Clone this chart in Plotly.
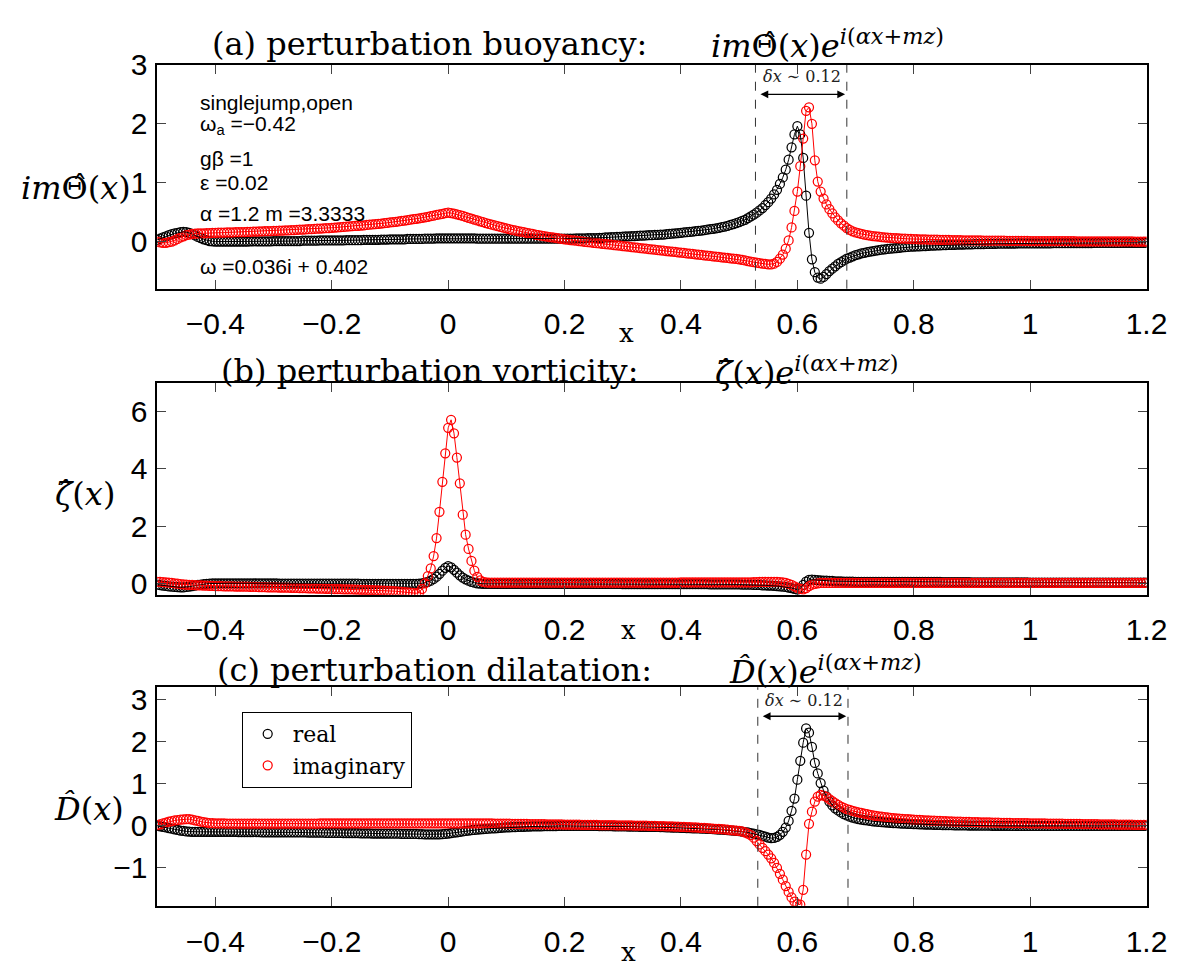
import plotly.graph_objects as go

W, H = 1198, 976

# ---------------- data ----------------
x = [
    -0.500, -0.495, -0.490, -0.485, -0.480, -0.475, -0.470, -0.465, -0.460, -0.455,
    -0.450, -0.445, -0.440, -0.435, -0.430, -0.425, -0.420, -0.415, -0.410, -0.405,
    -0.400, -0.395, -0.390, -0.385, -0.380, -0.375, -0.370, -0.365, -0.360, -0.355,
    -0.350, -0.345, -0.340, -0.335, -0.330, -0.325, -0.320, -0.315, -0.310, -0.305,
    -0.300, -0.295, -0.290, -0.285, -0.280, -0.275, -0.270, -0.265, -0.260, -0.255,
    -0.250, -0.245, -0.240, -0.235, -0.230, -0.225, -0.220, -0.215, -0.210, -0.205,
    -0.200, -0.195, -0.190, -0.185, -0.180, -0.175, -0.170, -0.165, -0.160, -0.155,
    -0.150, -0.145, -0.140, -0.135, -0.130, -0.125, -0.120, -0.115, -0.110, -0.105,
    -0.100, -0.095, -0.090, -0.085, -0.080, -0.075, -0.070, -0.065, -0.060, -0.055,
    -0.050, -0.045, -0.040, -0.035, -0.030, -0.025, -0.020, -0.015, -0.010, -0.005,
    0.000, 0.005, 0.010, 0.015, 0.020, 0.025, 0.030, 0.035, 0.040, 0.045,
    0.050, 0.055, 0.060, 0.065, 0.070, 0.075, 0.080, 0.085, 0.090, 0.095,
    0.100, 0.105, 0.110, 0.115, 0.120, 0.125, 0.130, 0.135, 0.140, 0.145,
    0.150, 0.155, 0.160, 0.165, 0.170, 0.175, 0.180, 0.185, 0.190, 0.195,
    0.200, 0.205, 0.210, 0.215, 0.220, 0.225, 0.230, 0.235, 0.240, 0.245,
    0.250, 0.255, 0.260, 0.265, 0.270, 0.275, 0.280, 0.285, 0.290, 0.295,
    0.300, 0.305, 0.310, 0.315, 0.320, 0.325, 0.330, 0.335, 0.340, 0.345,
    0.350, 0.355, 0.360, 0.365, 0.370, 0.375, 0.380, 0.385, 0.390, 0.395,
    0.400, 0.405, 0.410, 0.415, 0.420, 0.425, 0.430, 0.435, 0.440, 0.445,
    0.450, 0.455, 0.460, 0.465, 0.470, 0.475, 0.480, 0.485, 0.490, 0.495,
    0.500, 0.505, 0.510, 0.515, 0.520, 0.525, 0.530, 0.535, 0.540, 0.545,
    0.550, 0.555, 0.560, 0.565, 0.570, 0.575, 0.580, 0.585, 0.590, 0.595,
    0.600, 0.605, 0.610, 0.615, 0.620, 0.625, 0.630, 0.635, 0.640, 0.645,
    0.650, 0.655, 0.660, 0.665, 0.670, 0.675, 0.680, 0.685, 0.690, 0.695,
    0.700, 0.705, 0.710, 0.715, 0.720, 0.725, 0.730, 0.735, 0.740, 0.745,
    0.750, 0.755, 0.760, 0.765, 0.770, 0.775, 0.780, 0.785, 0.790, 0.795,
    0.800, 0.805, 0.810, 0.815, 0.820, 0.825, 0.830, 0.835, 0.840, 0.845,
    0.850, 0.855, 0.860, 0.865, 0.870, 0.875, 0.880, 0.885, 0.890, 0.895,
    0.900, 0.905, 0.910, 0.915, 0.920, 0.925, 0.930, 0.935, 0.940, 0.945,
    0.950, 0.955, 0.960, 0.965, 0.970, 0.975, 0.980, 0.985, 0.990, 0.995,
    1.000, 1.005, 1.010, 1.015, 1.020, 1.025, 1.030, 1.035, 1.040, 1.045,
    1.050, 1.055, 1.060, 1.065, 1.070, 1.075, 1.080, 1.085, 1.090, 1.095,
    1.100, 1.105, 1.110, 1.115, 1.120, 1.125, 1.130, 1.135, 1.140, 1.145,
    1.150, 1.155, 1.160, 1.165, 1.170, 1.175, 1.180, 1.185, 1.190, 1.195,
    1.200,
]

# (a) buoyancy  i m Theta(x)
buoy_real = [
    0.03, 0.05, 0.07, 0.09, 0.11, 0.125, 0.14, 0.15, 0.16, 0.165,
    0.16, 0.15, 0.13, 0.105, 0.08, 0.06, 0.04, 0.025, 0.01, 0.005,
    0.0, 0.0, 0.0, 0.0, 0.0, 0.0, 0.0, 0.0, 0.0, 0.0,
    0.0, 0.0, 0.005, 0.005, 0.005, 0.005, 0.005, 0.005, 0.005, 0.005,
    0.01, 0.01, 0.01, 0.01, 0.01, 0.01, 0.01, 0.01, 0.01, 0.01,
    0.015, 0.015, 0.015, 0.015, 0.015, 0.015, 0.02, 0.02, 0.02, 0.02,
    0.02, 0.02, 0.02, 0.02, 0.02, 0.025, 0.025, 0.025, 0.025, 0.025,
    0.025, 0.03, 0.03, 0.03, 0.03, 0.03, 0.03, 0.035, 0.035, 0.035,
    0.04, 0.04, 0.04, 0.04, 0.04, 0.04, 0.045, 0.045, 0.045, 0.045,
    0.045, 0.045, 0.05, 0.05, 0.05, 0.05, 0.055, 0.055, 0.055, 0.055,
    0.055, 0.055, 0.055, 0.055, 0.055, 0.055, 0.055, 0.055, 0.055, 0.055,
    0.05, 0.05, 0.05, 0.05, 0.05, 0.05, 0.05, 0.05, 0.05, 0.05,
    0.05, 0.05, 0.05, 0.05, 0.05, 0.05, 0.05, 0.05, 0.05, 0.05,
    0.05, 0.05, 0.05, 0.05, 0.05, 0.05, 0.05, 0.05, 0.05, 0.05,
    0.05, 0.05, 0.05, 0.05, 0.055, 0.055, 0.055, 0.055, 0.06, 0.06,
    0.06, 0.06, 0.065, 0.065, 0.07, 0.07, 0.075, 0.075, 0.08, 0.08,
    0.085, 0.088, 0.09, 0.093, 0.095, 0.098, 0.10, 0.103, 0.105, 0.108,
    0.11, 0.113, 0.115, 0.118, 0.12, 0.125, 0.13, 0.135, 0.14, 0.145,
    0.15, 0.155, 0.16, 0.165, 0.17, 0.176, 0.182, 0.188, 0.195, 0.202,
    0.21, 0.218, 0.226, 0.235, 0.245, 0.256, 0.268, 0.282, 0.297, 0.313,
    0.33, 0.35, 0.37, 0.40, 0.43, 0.46, 0.49, 0.53, 0.57, 0.62,
    0.67, 0.73, 0.80, 0.88, 0.98, 1.09, 1.22, 1.39, 1.60, 1.82,
    1.96, 1.82, 1.42, 0.78, 0.15, -0.30, -0.52, -0.61, -0.63, -0.60,
    -0.55, -0.50, -0.46, -0.42, -0.38, -0.35, -0.32, -0.29, -0.27, -0.25,
    -0.23, -0.215, -0.20, -0.19, -0.18, -0.17, -0.16, -0.152, -0.145, -0.137,
    -0.13, -0.125, -0.12, -0.115, -0.11, -0.105, -0.10, -0.095, -0.09, -0.087,
    -0.085, -0.082, -0.08, -0.077, -0.075, -0.072, -0.07, -0.067, -0.065, -0.062,
    -0.06, -0.058, -0.057, -0.055, -0.054, -0.052, -0.051, -0.05, -0.048, -0.046,
    -0.045, -0.044, -0.043, -0.042, -0.041, -0.04, -0.039, -0.038, -0.037, -0.036,
    -0.035, -0.035, -0.034, -0.034, -0.033, -0.033, -0.032, -0.032, -0.031, -0.031,
    -0.03, -0.03, -0.029, -0.029, -0.028, -0.028, -0.028, -0.028, -0.027, -0.027,
    -0.026, -0.026, -0.026, -0.026, -0.025, -0.025, -0.025, -0.025, -0.024, -0.024,
    -0.024, -0.024, -0.023, -0.023, -0.023, -0.023, -0.022, -0.022, -0.022, -0.022,
    -0.022, -0.022, -0.021, -0.021, -0.021, -0.021, -0.02, -0.02, -0.02, -0.02,
    -0.02,
]
buoy_imag = [
    0.0, -0.015, -0.02, -0.02, -0.01, 0.0, 0.02, 0.045, 0.07, 0.09,
    0.11, 0.12, 0.13, 0.135, 0.14, 0.14, 0.14, 0.142, 0.145, 0.147,
    0.15, 0.151, 0.152, 0.153, 0.155, 0.156, 0.158, 0.159, 0.16, 0.162,
    0.163, 0.165, 0.166, 0.168, 0.17, 0.172, 0.174, 0.176, 0.178, 0.18,
    0.182, 0.184, 0.186, 0.188, 0.19, 0.192, 0.195, 0.197, 0.20, 0.202,
    0.205, 0.207, 0.21, 0.213, 0.216, 0.219, 0.222, 0.225, 0.228, 0.231,
    0.235, 0.238, 0.242, 0.246, 0.25, 0.253, 0.257, 0.261, 0.265, 0.269,
    0.273, 0.277, 0.282, 0.287, 0.292, 0.297, 0.302, 0.307, 0.313, 0.319,
    0.325, 0.331, 0.337, 0.343, 0.35, 0.357, 0.364, 0.372, 0.38, 0.388,
    0.396, 0.405, 0.413, 0.422, 0.432, 0.442, 0.452, 0.462, 0.472, 0.482,
    0.49, 0.485, 0.475, 0.463, 0.45, 0.435, 0.42, 0.405, 0.39, 0.375,
    0.36, 0.345, 0.33, 0.315, 0.30, 0.288, 0.275, 0.262, 0.25, 0.237,
    0.225, 0.212, 0.20, 0.19, 0.18, 0.17, 0.16, 0.15, 0.14, 0.13,
    0.12, 0.11, 0.10, 0.092, 0.085, 0.077, 0.07, 0.062, 0.055, 0.047,
    0.04, 0.033, 0.027, 0.021, 0.015, 0.009, 0.003, -0.004, -0.01, -0.015,
    -0.02, -0.026, -0.031, -0.037, -0.042, -0.048, -0.053, -0.059, -0.065, -0.07,
    -0.076, -0.082, -0.087, -0.093, -0.098, -0.104, -0.11, -0.115, -0.12, -0.126,
    -0.132, -0.138, -0.143, -0.149, -0.154, -0.16, -0.165, -0.171, -0.176, -0.182,
    -0.188, -0.193, -0.199, -0.204, -0.21, -0.215, -0.221, -0.227, -0.232, -0.238,
    -0.244, -0.249, -0.255, -0.26, -0.266, -0.271, -0.277, -0.283, -0.288, -0.294,
    -0.30, -0.31, -0.32, -0.33, -0.34, -0.35, -0.358, -0.366, -0.374, -0.38,
    -0.385, -0.385, -0.375, -0.345, -0.29, -0.22, -0.12, 0.02, 0.24, 0.52,
    0.85, 1.28, 1.75, 2.22, 2.28, 2.0, 1.38, 1.02, 0.85, 0.73,
    0.63, 0.55, 0.48, 0.41, 0.36, 0.31, 0.27, 0.23, 0.20, 0.175,
    0.155, 0.142, 0.13, 0.12, 0.11, 0.102, 0.095, 0.089, 0.083, 0.078,
    0.073, 0.069, 0.065, 0.061, 0.058, 0.055, 0.052, 0.05, 0.047, 0.045,
    0.043, 0.041, 0.04, 0.038, 0.037, 0.035, 0.034, 0.033, 0.032, 0.031,
    0.03, 0.029, 0.028, 0.027, 0.026, 0.025, 0.024, 0.023, 0.022, 0.021,
    0.02, 0.02, 0.019, 0.019, 0.018, 0.018, 0.017, 0.017, 0.016, 0.016,
    0.015, 0.015, 0.014, 0.014, 0.013, 0.013, 0.012, 0.012, 0.011, 0.011,
    0.01, 0.01, 0.01, 0.01, 0.009, 0.009, 0.009, 0.009, 0.008, 0.008,
    0.008, 0.008, 0.007, 0.007, 0.007, 0.007, 0.006, 0.006, 0.006, 0.006,
    0.005, 0.005, 0.005, 0.005, 0.004, 0.004, 0.004, 0.004, 0.003, 0.003,
    0.003, 0.003, 0.002, 0.002, 0.002, 0.002, 0.001, 0.001, 0.001, 0.001,
    0.0,
]

# (b) vorticity  zeta(x)
vort_real = [
    -0.05, -0.065, -0.08, -0.095, -0.11, -0.12, -0.13, -0.135, -0.14, -0.14,
    -0.13, -0.12, -0.10, -0.08, -0.06, -0.045, -0.03, -0.02, -0.01, -0.005,
    0.0, 0.0, 0.0, 0.0, 0.0, 0.0, 0.0, 0.0, 0.0, 0.0,
    0.0, 0.0, 0.0, 0.0, 0.0, 0.0, 0.0, 0.0, 0.0, 0.0,
    0.0, 0.0, -0.01, -0.01, -0.01, -0.01, -0.01, -0.01, -0.01, -0.01,
    -0.01, -0.01, -0.01, -0.01, -0.01, -0.01, -0.01, -0.01, -0.01, -0.01,
    -0.01, -0.01, -0.01, -0.01, -0.01, -0.01, -0.01, -0.01, -0.01, -0.01,
    -0.02, -0.02, -0.02, -0.02, -0.02, -0.02, -0.02, -0.02, -0.02, -0.02,
    -0.02, -0.02, -0.02, -0.02, -0.02, -0.02, -0.02, -0.02, -0.02, -0.02,
    -0.01, 0.0, 0.02, 0.05, 0.09, 0.15, 0.23, 0.33, 0.44, 0.54,
    0.60, 0.56, 0.47, 0.37, 0.28, 0.20, 0.14, 0.09, 0.05, 0.02,
    0.0, -0.01, -0.02, -0.02, -0.02, -0.02, -0.02, -0.02, -0.02, -0.02,
    -0.02, -0.02, -0.02, -0.02, -0.02, -0.02, -0.02, -0.02, -0.02, -0.02,
    -0.02, -0.02, -0.02, -0.02, -0.02, -0.02, -0.02, -0.02, -0.02, -0.02,
    -0.02, -0.02, -0.02, -0.02, -0.02, -0.02, -0.02, -0.02, -0.02, -0.02,
    -0.025, -0.025, -0.025, -0.025, -0.025, -0.025, -0.025, -0.025, -0.025, -0.025,
    -0.03, -0.03, -0.03, -0.03, -0.03, -0.03, -0.03, -0.03, -0.03, -0.03,
    -0.03, -0.03, -0.03, -0.03, -0.03, -0.03, -0.03, -0.03, -0.03, -0.03,
    -0.03, -0.03, -0.03, -0.03, -0.03, -0.03, -0.03, -0.03, -0.03, -0.03,
    -0.04, -0.04, -0.04, -0.04, -0.04, -0.04, -0.04, -0.04, -0.04, -0.04,
    -0.04, -0.05, -0.05, -0.05, -0.05, -0.06, -0.06, -0.06, -0.07, -0.07,
    -0.08, -0.08, -0.09, -0.10, -0.11, -0.12, -0.13, -0.15, -0.17, -0.20,
    -0.22, -0.18, -0.06, 0.06, 0.12, 0.13, 0.12, 0.11, 0.10, 0.09,
    0.09, 0.08, 0.08, 0.07, 0.07, 0.07, 0.06, 0.06, 0.06, 0.06,
    0.05, 0.05, 0.05, 0.05, 0.05, 0.05, 0.05, 0.05, 0.05, 0.05,
    0.05, 0.05, 0.05, 0.05, 0.05, 0.05, 0.05, 0.05, 0.05, 0.05,
    0.045, 0.045, 0.045, 0.045, 0.045, 0.045, 0.045, 0.045, 0.045, 0.045,
    0.04, 0.04, 0.04, 0.04, 0.04, 0.04, 0.04, 0.04, 0.04, 0.04,
    0.035, 0.035, 0.035, 0.035, 0.035, 0.035, 0.035, 0.035, 0.035, 0.035,
    0.03, 0.03, 0.03, 0.03, 0.03, 0.03, 0.03, 0.03, 0.03, 0.03,
    0.025, 0.025, 0.025, 0.025, 0.025, 0.025, 0.025, 0.025, 0.025, 0.025,
    0.02, 0.02, 0.02, 0.02, 0.02, 0.02, 0.02, 0.02, 0.02, 0.02,
    0.02, 0.02, 0.02, 0.02, 0.02, 0.02, 0.02, 0.02, 0.02, 0.02,
    0.02, 0.02, 0.02, 0.02, 0.02, 0.02, 0.02, 0.02, 0.02, 0.02,
    0.02,
]
vort_imag = [
    0.05, 0.045, 0.04, 0.03, 0.02, 0.01, 0.0, -0.015, -0.03, -0.04,
    -0.05, -0.055, -0.06, -0.065, -0.07, -0.07, -0.08, -0.085, -0.09, -0.095,
    -0.10, -0.102, -0.104, -0.106, -0.108, -0.11, -0.112, -0.114, -0.116, -0.118,
    -0.12, -0.122, -0.125, -0.127, -0.13, -0.132, -0.135, -0.137, -0.14, -0.142,
    -0.145, -0.147, -0.15, -0.152, -0.155, -0.157, -0.16, -0.162, -0.165, -0.167,
    -0.17, -0.172, -0.175, -0.177, -0.18, -0.185, -0.19, -0.192, -0.195, -0.197,
    -0.20, -0.202, -0.205, -0.207, -0.21, -0.212, -0.215, -0.217, -0.22, -0.225,
    -0.23, -0.232, -0.235, -0.237, -0.24, -0.245, -0.25, -0.255, -0.26, -0.265,
    -0.27, -0.275, -0.28, -0.29, -0.30, -0.31, -0.32, -0.33, -0.34, -0.35,
    -0.32, -0.20, 0.0, 0.25, 0.52, 0.95, 1.58, 2.5, 3.55, 4.55,
    5.44, 5.72, 5.25, 4.4, 3.5, 2.4, 1.7, 1.2, 0.78, 0.44,
    0.22, 0.10, 0.05, 0.03, 0.02, 0.02, 0.02, 0.02, 0.02, 0.02,
    0.02, 0.02, 0.02, 0.02, 0.02, 0.02, 0.02, 0.02, 0.02, 0.02,
    0.02, 0.02, 0.02, 0.02, 0.02, 0.02, 0.02, 0.02, 0.02, 0.02,
    0.02, 0.02, 0.02, 0.02, 0.02, 0.02, 0.02, 0.02, 0.02, 0.02,
    0.02, 0.02, 0.02, 0.02, 0.02, 0.02, 0.02, 0.02, 0.02, 0.02,
    0.02, 0.02, 0.02, 0.02, 0.02, 0.02, 0.02, 0.02, 0.02, 0.02,
    0.025, 0.025, 0.025, 0.025, 0.025, 0.025, 0.025, 0.025, 0.025, 0.025,
    0.03, 0.03, 0.03, 0.03, 0.03, 0.03, 0.03, 0.03, 0.03, 0.03,
    0.03, 0.03, 0.03, 0.03, 0.03, 0.03, 0.03, 0.03, 0.03, 0.03,
    0.03, 0.03, 0.03, 0.035, 0.035, 0.04, 0.04, 0.045, 0.045, 0.05,
    0.05, 0.05, 0.05, 0.05, 0.04, 0.03, 0.01, -0.02, -0.06, -0.11,
    -0.16, -0.20, -0.21, -0.17, -0.10, -0.05, -0.02, 0.0, 0.01, 0.01,
    0.01, 0.01, 0.01, 0.01, 0.01, 0.01, 0.01, 0.01, 0.01, 0.01,
    0.01, 0.01, 0.01, 0.01, 0.01, 0.01, 0.01, 0.01, 0.01, 0.01,
    0.01, 0.01, 0.01, 0.01, 0.01, 0.01, 0.01, 0.01, 0.01, 0.01,
    0.01, 0.01, 0.01, 0.01, 0.01, 0.01, 0.01, 0.01, 0.01, 0.01,
    0.01, 0.01, 0.01, 0.01, 0.01, 0.01, 0.01, 0.01, 0.01, 0.01,
    0.01, 0.01, 0.01, 0.01, 0.01, 0.01, 0.01, 0.01, 0.01, 0.01,
    0.01, 0.01, 0.01, 0.01, 0.01, 0.01, 0.01, 0.01, 0.01, 0.01,
    0.01, 0.01, 0.01, 0.01, 0.01, 0.01, 0.01, 0.01, 0.01, 0.01,
    0.01, 0.01, 0.01, 0.01, 0.01, 0.01, 0.01, 0.01, 0.01, 0.01,
    0.01, 0.01, 0.01, 0.01, 0.01, 0.01, 0.01, 0.01, 0.01, 0.01,
    0.01, 0.01, 0.01, 0.01, 0.01, 0.01, 0.01, 0.01, 0.01, 0.01,
    0.01,
]

# (c) dilatation  D(x)
dil_real = [
    0.0, -0.01, -0.02, -0.035, -0.05, -0.065, -0.08, -0.095, -0.11, -0.12,
    -0.13, -0.135, -0.14, -0.14, -0.14, -0.14, -0.14, -0.14, -0.14, -0.14,
    -0.14, -0.14, -0.14, -0.14, -0.14, -0.14, -0.14, -0.14, -0.145, -0.145,
    -0.145, -0.145, -0.145, -0.145, -0.145, -0.145, -0.15, -0.15, -0.15, -0.15,
    -0.15, -0.15, -0.15, -0.15, -0.15, -0.15, -0.155, -0.155, -0.155, -0.155,
    -0.155, -0.155, -0.16, -0.16, -0.16, -0.16, -0.16, -0.16, -0.165, -0.165,
    -0.165, -0.165, -0.165, -0.165, -0.17, -0.17, -0.17, -0.17, -0.17, -0.17,
    -0.175, -0.175, -0.175, -0.175, -0.18, -0.18, -0.18, -0.18, -0.18, -0.18,
    -0.185, -0.185, -0.185, -0.185, -0.19, -0.19, -0.19, -0.19, -0.19, -0.19,
    -0.195, -0.195, -0.20, -0.20, -0.20, -0.20, -0.20, -0.20, -0.195, -0.19,
    -0.18, -0.17, -0.16, -0.15, -0.14, -0.13, -0.12, -0.11, -0.10, -0.095,
    -0.09, -0.08, -0.075, -0.07, -0.065, -0.06, -0.055, -0.05, -0.045, -0.04,
    -0.035, -0.032, -0.03, -0.027, -0.025, -0.022, -0.02, -0.017, -0.015, -0.012,
    -0.01, -0.01, -0.01, -0.007, -0.005, -0.005, -0.005, -0.003, 0.0, 0.0,
    0.0, 0.0, 0.0, 0.0, 0.0, 0.0, 0.0, 0.0, 0.0, 0.0,
    0.0, 0.0, -0.005, -0.005, -0.005, -0.005, -0.007, -0.01, -0.01, -0.01,
    -0.01, -0.012, -0.015, -0.015, -0.015, -0.017, -0.02, -0.02, -0.02, -0.022,
    -0.025, -0.025, -0.025, -0.027, -0.03, -0.032, -0.035, -0.037, -0.04, -0.042,
    -0.045, -0.047, -0.05, -0.052, -0.055, -0.057, -0.06, -0.062, -0.065, -0.067,
    -0.07, -0.075, -0.08, -0.085, -0.09, -0.095, -0.10, -0.105, -0.11, -0.117,
    -0.125, -0.135, -0.145, -0.155, -0.17, -0.185, -0.20, -0.215, -0.235, -0.255,
    -0.275, -0.29, -0.285, -0.26, -0.21, -0.14, -0.04, 0.12, 0.36, 0.65,
    1.10, 1.55, 1.98, 2.32, 2.22, 1.88, 1.50, 1.25, 1.02, 0.84,
    0.70, 0.58, 0.49, 0.42, 0.37, 0.32, 0.28, 0.25, 0.22, 0.20,
    0.18, 0.165, 0.15, 0.14, 0.13, 0.12, 0.11, 0.102, 0.095, 0.09,
    0.085, 0.08, 0.075, 0.07, 0.065, 0.061, 0.057, 0.053, 0.05, 0.047,
    0.044, 0.041, 0.039, 0.036, 0.034, 0.032, 0.03, 0.028, 0.026, 0.024,
    0.022, 0.02, 0.019, 0.017, 0.016, 0.014, 0.013, 0.012, 0.011, 0.01,
    0.009, 0.008, 0.007, 0.006, 0.006, 0.005, 0.005, 0.004, 0.004, 0.003,
    0.003, 0.002, 0.002, 0.001, 0.001, 0.0, 0.0, 0.0, 0.0, 0.0,
    0.0, 0.0, 0.0, 0.0, 0.0, 0.0, 0.0, 0.0, 0.0, 0.0,
    0.0, 0.0, 0.0, 0.0, 0.0, 0.0, 0.0, 0.0, 0.0, 0.0,
    0.0, 0.0, 0.0, 0.0, 0.0, 0.0, 0.0, 0.0, 0.0, 0.0,
    0.0, 0.0, 0.0, 0.0, 0.0, 0.0, 0.0, 0.0, 0.0, 0.0,
    0.0,
]
dil_imag = [
    0.02, 0.04, 0.06, 0.08, 0.10, 0.115, 0.13, 0.14, 0.15, 0.155,
    0.16, 0.16, 0.15, 0.135, 0.12, 0.105, 0.09, 0.08, 0.07, 0.065,
    0.06, 0.06, 0.06, 0.06, 0.055, 0.055, 0.055, 0.055, 0.055, 0.055,
    0.055, 0.055, 0.055, 0.055, 0.055, 0.055, 0.055, 0.055, 0.055, 0.055,
    0.055, 0.055, 0.055, 0.055, 0.055, 0.055, 0.055, 0.055, 0.055, 0.055,
    0.055, 0.055, 0.055, 0.055, 0.055, 0.055, 0.06, 0.06, 0.06, 0.06,
    0.06, 0.06, 0.06, 0.06, 0.06, 0.06, 0.06, 0.06, 0.06, 0.06,
    0.06, 0.06, 0.06, 0.06, 0.06, 0.06, 0.06, 0.06, 0.06, 0.06,
    0.06, 0.06, 0.06, 0.06, 0.06, 0.06, 0.06, 0.06, 0.06, 0.06,
    0.06, 0.06, 0.06, 0.06, 0.06, 0.06, 0.06, 0.06, 0.06, 0.06,
    0.06, 0.06, 0.06, 0.06, 0.06, 0.06, 0.06, 0.06, 0.06, 0.06,
    0.06, 0.06, 0.06, 0.06, 0.06, 0.06, 0.058, 0.057, 0.056, 0.055,
    0.054, 0.053, 0.052, 0.051, 0.05, 0.049, 0.048, 0.047, 0.046, 0.045,
    0.044, 0.043, 0.042, 0.041, 0.04, 0.039, 0.038, 0.037, 0.036, 0.035,
    0.034, 0.033, 0.032, 0.031, 0.03, 0.029, 0.028, 0.027, 0.026, 0.025,
    0.024, 0.023, 0.022, 0.021, 0.02, 0.019, 0.018, 0.017, 0.016, 0.015,
    0.014, 0.013, 0.012, 0.011, 0.01, 0.009, 0.008, 0.006, 0.005, 0.003,
    0.002, 0.0, -0.002, -0.004, -0.006, -0.008, -0.01, -0.012, -0.015, -0.017,
    -0.02, -0.023, -0.026, -0.029, -0.032, -0.036, -0.04, -0.044, -0.048, -0.052,
    -0.057, -0.062, -0.067, -0.072, -0.078, -0.084, -0.09, -0.097, -0.104, -0.112,
    -0.12, -0.13, -0.15, -0.18, -0.22, -0.28, -0.36, -0.44, -0.52, -0.60,
    -0.68, -0.77, -0.88, -1.0, -1.14, -1.28, -1.43, -1.57, -1.70, -1.80,
    -1.86, -1.87, -1.52, -0.68, 0.05, 0.34, 0.58, 0.70, 0.74, 0.72,
    0.69, 0.64, 0.59, 0.54, 0.50, 0.46, 0.43, 0.40, 0.38, 0.36,
    0.34, 0.325, 0.31, 0.295, 0.28, 0.265, 0.25, 0.24, 0.23, 0.22,
    0.21, 0.202, 0.195, 0.187, 0.18, 0.175, 0.17, 0.165, 0.16, 0.155,
    0.15, 0.146, 0.142, 0.138, 0.135, 0.131, 0.128, 0.125, 0.122, 0.119,
    0.116, 0.113, 0.11, 0.107, 0.105, 0.102, 0.10, 0.098, 0.096, 0.094,
    0.092, 0.09, 0.088, 0.086, 0.085, 0.083, 0.082, 0.08, 0.079, 0.077,
    0.076, 0.074, 0.073, 0.071, 0.07, 0.069, 0.068, 0.067, 0.066, 0.065,
    0.064, 0.063, 0.062, 0.061, 0.06, 0.059, 0.058, 0.057, 0.056, 0.055,
    0.054, 0.053, 0.052, 0.051, 0.05, 0.049, 0.048, 0.047, 0.046, 0.045,
    0.044, 0.043, 0.042, 0.041, 0.04, 0.039, 0.038, 0.037, 0.036, 0.035,
    0.034, 0.033, 0.032, 0.031, 0.03, 0.029, 0.028, 0.027, 0.026, 0.025,
    0.025,
]

series = {"buoy_real": buoy_real, "buoy_imag": buoy_imag, "vort_real": vort_real,
          "vort_imag": vort_imag, "dil_real": dil_real, "dil_imag": dil_imag}
for k, v in series.items():
    assert len(v) == len(x), f"{k}: {len(v)} vs {len(x)}"

x_ticks = [-0.4, -0.2, 0, 0.2, 0.4, 0.6, 0.8, 1, 1.2]
x_ticktext = ["\u22120.4", "\u22120.2", "0", "0.2", "0.4", "0.6", "0.8", "1", "1.2"]

# ---------------- figure ----------------
fig = go.Figure()

SERIF = "DejaVu Serif"
SANS = "Liberation Sans, Arial, Helvetica"


def add_panel(yr, yi, xa, ya, legend):
    for vals, col, name in ((yr, "black", "real"), (yi, "red", "imaginary")):
        fig.add_trace(go.Scatter(
            x=x, y=vals, mode="markers", xaxis=xa, yaxis=ya, name=name,
            showlegend=legend,
            marker=dict(symbol="circle-open", size=9, color=col,
                        line=dict(width=1.25, color=col))))
    for vals, col in ((yr, "black"), (yi, "red")):
        fig.add_trace(go.Scatter(
            x=x, y=vals, mode="lines", xaxis=xa, yaxis=ya, showlegend=False,
            line=dict(color=col, width=1)))


add_panel(buoy_real, buoy_imag, "x", "y", False)
add_panel(vort_real, vort_imag, "x2", "y2", False)
add_panel(dil_real, dil_imag, "x3", "y3", True)

xdom = [160 / W, 1167 / W]
axis_common = dict(showline=True, linecolor="black", linewidth=1.5, mirror="allticks",
                   ticks="inside", ticklen=9, tickwidth=1, tickcolor="#444",
                   showgrid=False, zeroline=False,
                   tickfont=dict(family=SANS, size=30, color="black"))

xa = dict(axis_common, range=[-0.5, 1.2], domain=xdom, tickvals=x_ticks,
          ticktext=x_ticktext, ticklabelstandoff=8)


def yd(top, bot):
    return [1 - bot / H, 1 - top / H]


fig.update_layout(
    width=W, height=H, margin=dict(l=0, r=0, t=0, b=0),
    paper_bgcolor="white", plot_bgcolor="white",
    xaxis=dict(xa, anchor="y"),
    yaxis=dict(axis_common, range=[-0.8, 3], domain=yd(49, 278),
               tickvals=[0, 1, 2, 3], ticklabelstandoff=2),
    xaxis2=dict(xa, anchor="y2"),
    yaxis2=dict(axis_common, range=[-0.4, 7], domain=yd(374.7, 591),
                tickvals=[0, 2, 4, 6], ticklabelstandoff=2),
    xaxis3=dict(xa, anchor="y3"),
    yaxis3=dict(axis_common, range=[-1.9, 3.3], domain=yd(685.7, 909.3),
                tickvals=[-1, 0, 1, 2, 3], ticktext=["\u22121", "0", "1", "2", "3"],
                ticklabelstandoff=2),
    legend=dict(x=246 / W, y=1 - 711 / H, xanchor="left", yanchor="top",
                bgcolor="white", bordercolor="black", borderwidth=1,
                font=dict(family=SERIF, size=22, color="black"),
                itemwidth=40, tracegroupgap=0),
)

ann = []


def ptext(px, py, text, size, family, xanchor="left", yanchor="middle"):
    ann.append(dict(xref="paper", yref="paper", x=px / W, y=1 - py / H, text=text,
                    showarrow=False, xanchor=xanchor, yanchor=yanchor,
                    font=dict(family=family, size=size, color="black")))


EXP = "<i>e</i><sup><i>i</i>(<i>\u03b1x</i>+<i>mz</i>)</sup>"
# titles
ptext(214, 28, "(a) perturbation buoyancy:", 32, SERIF)
ptext(722, 28, "<i>im</i>\u0398\u0302(<i>x</i>)" + EXP, 32, SERIF)
ptext(223, 362, "(b) perturbation vorticity:", 32, SERIF)
ptext(726, 362, "<i>\u03b6\u0302</i>(<i>x</i>)" + EXP, 32, SERIF)
ptext(219, 668, "(c) perturbation dilatation:", 32, SERIF)
ptext(740, 668, "<i>D\u0302</i>(<i>x</i>)" + EXP, 32, SERIF)

# y labels
ptext(135, 175, "<i>im</i>\u0398\u0302(<i>x</i>)", 32, SERIF, xanchor="right")
ptext(119, 488, "<i>\u03b6\u0302</i>(<i>x</i>)", 32, SERIF, xanchor="right")
ptext(128, 810, "<i>D\u0302</i>(<i>x</i>)", 32, SERIF, xanchor="right")

# x labels
ptext(638, 323, "x", 26, SERIF, xanchor="center")
ptext(640, 627, "x", 26, SERIF, xanchor="center")
ptext(640, 957, "x", 26, SERIF, xanchor="center")

# info text in panel (a)
ptext(202, 87, "singlejump,open", 21, SANS)
ptext(202, 110, "\u03c9<sub>a</sub> =\u22120.42", 21, SANS)
ptext(202, 145, "g\u03b2 =1", 21, SANS)
ptext(202, 169, "\u03b5 =0.02", 21, SANS)
ptext(202, 201, "\u03b1 =1.2 m =3.3333", 21, SANS)
ptext(202, 255, "\u03c9 =0.036i + 0.402", 21, SANS)

# delta-x markers
for xr, yr_, lo, hi, ya_, ytxt in (("x", "y", 0.528, 0.685, 2.5, 2.8),
                                   ("x3", "y3", 0.532, 0.687, 2.61, 2.98)):
    ann.append(dict(xref=xr, yref=yr_, x=(lo + hi) / 2 + 0.002, y=ytxt,
                    text="<i>\u03b4x</i> \u223c 0.12", showarrow=False,
                    font=dict(family=SERIF, size=16, color="#222")))
    ann.append(dict(xref=xr, yref=yr_, axref=xr, ayref=yr_, x=hi - 0.003, y=ya_,
                    ax=lo + 0.006, ay=ya_, text="", showarrow=True, arrowhead=2,
                    arrowside="end+start", arrowsize=1.2, arrowwidth=1.3,
                    arrowcolor="black", standoff=0, startstandoff=0))
    for xv in (lo, hi):
        fig.add_shape(type="line", xref=xr, yref=yr_ + " domain",
                      x0=xv, x1=xv, y0=0, y1=1,
                      line=dict(color="#333", width=1, dash="dash"))

fig.update_layout(annotations=ann)
fig.write_html("out.html", config={"displayModeBar": False},
               post_script="document.body.style.margin='0';"
                           "document.body.style.overflow='hidden';")
